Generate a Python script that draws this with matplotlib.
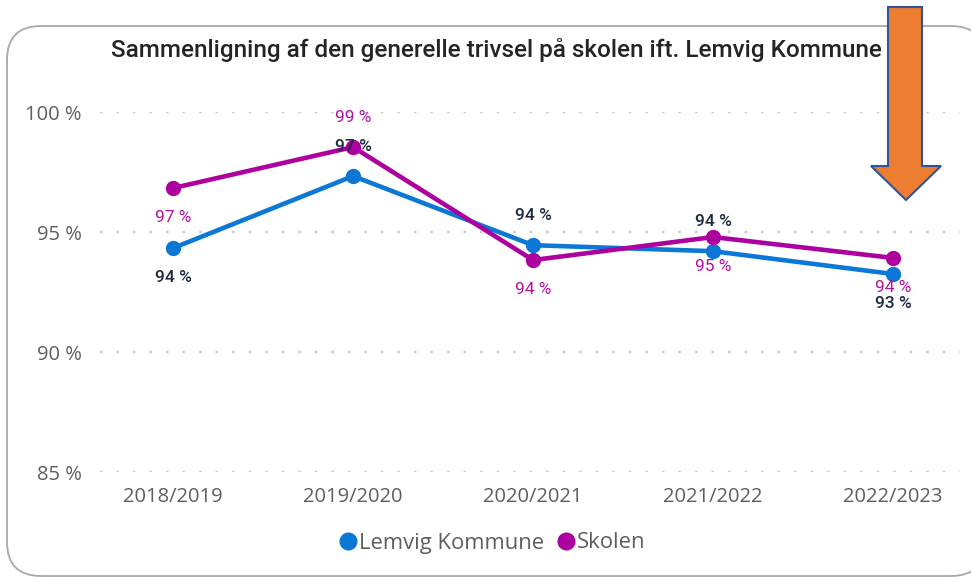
import matplotlib
matplotlib.use("Agg")
import matplotlib.pyplot as plt
from matplotlib.patches import FancyBboxPatch, Polygon
from matplotlib.lines import Line2D

W, H = 971, 577

title = "Sammenligning af den generelle trivsel på skolen ift. Lemvig Kommune"
categories = ["2018/2019", "2019/2020", "2020/2021", "2021/2022", "2022/2023"]
lemvig = [94.33, 97.33, 94.45, 94.2, 93.25]
skolen = [96.83, 98.54, 93.83, 94.79, 93.92]
yticks = [85, 90, 95, 100]
series_names = ["Lemvig Kommune", "Skolen"]

# label placement (style): +1 above, -1 below
lemvig_side = [-1, 1, 1, 1, -1]
skolen_side = [-1, 1, -1, -1, -1]

c_lem = "#0B78D6"
c_sko = "#AC009F"
c_lem_lbl = "#1E2A3C"
c_sko_lbl = "#B0119F"
c_txt = "#605E5C"

def fx(x):
    return x / W

def fy(y):
    return 1 - y / H

fig = plt.figure(figsize=(W / 100, H / 100), dpi=100)
fig.patch.set_facecolor("white")

# card
card = FancyBboxPatch((fx(7), fy(576)), fx(985) - fx(7), fy(26) - fy(576),
                      boxstyle="round,pad=0,rounding_size=0.035",
                      transform=fig.transFigure, facecolor="white",
                      edgecolor="#A8A8A8", linewidth=1.3, mutation_aspect=W / H,
                      zorder=-5)
fig.patches.append(card)

ax = fig.add_axes([fx(100), fy(472), fx(960) - fx(100), fy(112) - fy(472)])
ax.set_facecolor("none")
x = list(range(len(categories)))
ax.set_xlim(-0.406, 4.372)
ax.set_ylim(85, 100)

for t in yticks:
    ax.axhline(t, color="#C4C4C4", linestyle=(0, (1, 6)), linewidth=1.7, zorder=0)

ax.plot(x, lemvig, color=c_lem, lw=3.3, marker="o", ms=10, zorder=3)
ax.plot(x, skolen, color=c_sko, lw=3.3, marker="o", ms=10, zorder=4)

for xi, v, s in zip(x, lemvig, lemvig_side):
    ax.annotate(f"{round(v)} %", (xi, v), xytext=(0, 21.5 * s), textcoords="offset points",
                ha="center", va="center", color=c_lem_lbl, fontsize=12.5,
                family="Roboto", fontweight="medium", zorder=5, annotation_clip=False)
for xi, v, s in zip(x, skolen, skolen_side):
    ax.annotate(f"{round(v)} %", (xi, v), xytext=(0, 21 * s), textcoords="offset points",
                ha="center", va="center", color=c_sko_lbl, fontsize=12.5,
                family="Roboto", zorder=5, annotation_clip=False)

ax.set_xticks(x)
ax.set_xticklabels(categories, family="Open Sans", fontsize=14.5, color=c_txt)
ax.set_yticks(yticks)
ax.set_yticklabels([f"{t} %" for t in yticks], family="Open Sans", fontsize=14.5, color=c_txt)
ax.tick_params(length=0, pad=11)
ax.tick_params(axis="y", pad=13)
for sp in ax.spines.values():
    sp.set_visible(False)

fig.text(fx(496), fy(50), title, ha="center", va="center", fontsize=17.5,
         family="Roboto", fontweight="medium", color="#252423")

handles = [Line2D([], [], color=c_lem, marker="o", ls="none", ms=12),
           Line2D([], [], color=c_sko, marker="o", ls="none", ms=12)]
leg = fig.legend(handles, series_names, loc="center", bbox_to_anchor=(fx(491), fy(543)),
                 ncol=2, frameon=False, handletextpad=0.0, columnspacing=0.5,
                 handlelength=1.0, prop={"family": "Open Sans", "size": 15.8})
for t in leg.get_texts():
    t.set_color(c_txt)

# orange arrow
arrow_px = [(888, 7), (922, 7), (922, 166), (941, 166), (906, 200),
            (871, 166), (888, 166)]
arrow = Polygon([(fx(a), fy(b)) for a, b in arrow_px], closed=True,
                transform=fig.transFigure, facecolor="#ED7D31",
                edgecolor="#2F5597", linewidth=1.5, zorder=10)
fig.patches.append(arrow)

fig.savefig("out.png", dpi=100)
